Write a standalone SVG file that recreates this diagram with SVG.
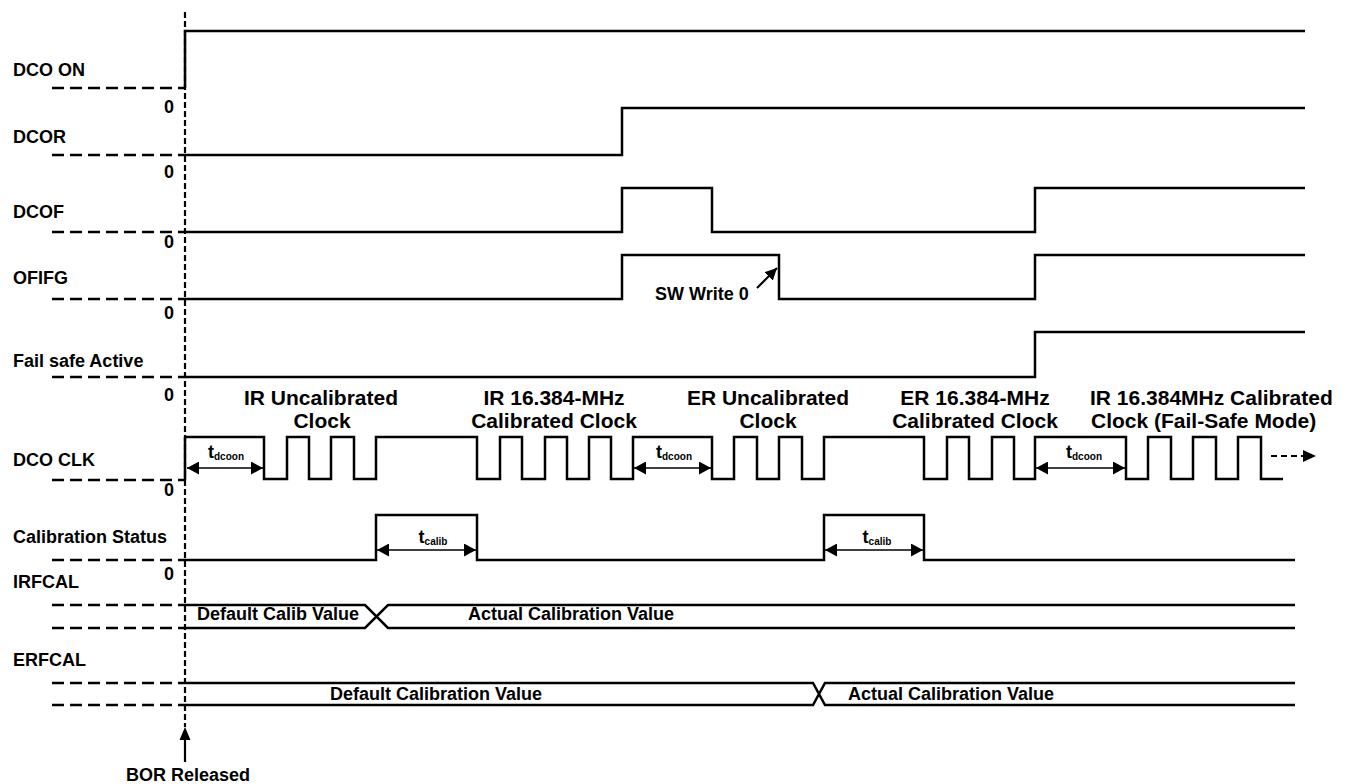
<svg xmlns="http://www.w3.org/2000/svg" width="1348" height="784" viewBox="0 0 1348 784">
<style>
text{font-family:"Liberation Sans",Arial,Helvetica,sans-serif;font-weight:bold;fill:#000}
.lbl{font-size:18px}
.zero{font-size:18px;text-anchor:middle}
.hdr{font-size:21px;text-anchor:middle}
.val{font-size:18px}
.sub{font-size:10px}
.wave{fill:none;stroke:#000;stroke-width:2.5;stroke-linejoin:miter}
.dash{fill:none;stroke:#000;stroke-width:2.5;stroke-dasharray:12 6}
.vdash{fill:none;stroke:#000;stroke-width:2.2;stroke-dasharray:6 3}
.dim{fill:none;stroke:#000;stroke-width:1.6;marker-start:url(#ah);marker-end:url(#ah)}
</style>
<defs>
<marker id="ah" markerUnits="userSpaceOnUse" markerWidth="13" markerHeight="13" refX="12" refY="6.5" orient="auto-start-reverse" viewBox="0 0 13 13">
<path d="M0,0 L12,6.5 L0,13 Z" fill="#000"/>
</marker>
<marker id="ah2" markerUnits="userSpaceOnUse" markerWidth="13" markerHeight="12" refX="12" refY="6" orient="auto" viewBox="0 0 13 12">
<path d="M0,0 L12,6 L0,12 Z" fill="#000"/>
</marker>
</defs>
<rect width="1348" height="784" fill="#fff"/>

<g id="bor-line">
<path class="vdash" d="M185 12 V727"/>
</g>

<g id="dco-on">
<text class="lbl" x="13" y="76">DCO ON</text>
<path class="dash" d="M52 88 H185"/>
<path class="wave" d="M185 88 V31 H1305"/>
<text class="zero" x="169" y="113">0</text>
</g>

<g id="dcor">
<text class="lbl" x="13" y="143">DCOR</text>
<path class="dash" d="M52 155 H185"/>
<path class="wave" d="M185 155 H622 V108 H1305"/>
<text class="zero" x="169" y="178">0</text>
</g>

<g id="dcof">
<text class="lbl" x="13" y="218">DCOF</text>
<path class="dash" d="M52 232 H185"/>
<path class="wave" d="M185 232 H622 V188 H712 V232 H1035 V188 H1305"/>
<text class="zero" x="169" y="248">0</text>
</g>

<g id="ofifg">
<text class="lbl" x="13" y="284">OFIFG</text>
<path class="dash" d="M52 299 H185"/>
<path class="wave" d="M185 299 H622 V255 H779 V299 H1035 V255 H1305"/>
<text class="val" x="655" y="300">SW Write 0</text>
<text class="zero" x="169" y="319">0</text>
</g>

<g id="fail-safe">
<text class="lbl" x="13" y="367">Fail safe Active</text>
<path class="dash" d="M52 377 H185"/>
<path class="wave" d="M185 377 H1035 V332 H1305"/>
<text class="zero" x="169" y="401">0</text>
</g>

<g id="dco-clk">
<text class="lbl" x="13" y="466">DCO CLK</text>
<path class="dash" d="M52 480 H185"/>
<path class="wave" d="M185 480 V437"/>
<path class="wave" d="M185 437 H264 V479 H287 V437 H309 V479 H331 V437 H354 V479 H376 V437 H477 V479 H500 V437 H522 V479 H545 V437 H567 V479 H589 V437 H611 V479 H633 V437 H712 V479 H734 V437 H757 V479 H779 V437 H802 V479 H824 V437 H924 V479 H947 V437 H969 V479 H992 V437 H1014 V479 H1035 V437 H1126 V479 H1148 V437 H1171 V479 H1193 V437 H1216 V479 H1238 V437 H1261 V479 H1283"/>
<text class="hdr" x="321" y="405">IR Uncalibrated</text>
<text class="hdr" x="322" y="428">Clock</text>
<text class="hdr" x="554" y="405">IR 16.384-MHz</text>
<text class="hdr" x="554" y="428">Calibrated Clock</text>
<text class="hdr" x="768" y="405">ER Uncalibrated</text>
<text class="hdr" x="768" y="428">Clock</text>
<text class="hdr" x="975" y="405">ER 16.384-MHz</text>
<text class="hdr" x="975" y="428">Calibrated Clock</text>
<text class="hdr" x="1090" y="405" style="text-anchor:start">IR 16.384MHz Calibrated</text>
<text class="hdr" x="1091" y="428" style="text-anchor:start">Clock (Fail-Safe Mode)</text>
<text class="zero" x="169" y="496">0</text>
</g>

<g id="cal-status">
<text class="lbl" x="13" y="543">Calibration Status</text>
<path class="dash" d="M52 560 H185"/>
<path class="wave" d="M185 560 H376 V515 H477 V560 H824 V515 H924 V560 H1295"/>
<text class="zero" x="169" y="580">0</text>
</g>

<g id="irfcal">
<text class="lbl" x="13" y="588">IRFCAL</text>
<path class="dash" d="M52 605 H185 M52 628 H185"/>
<path class="wave" d="M185 605 H365 L388 628 H1295 M185 628 H365 L388 605 H1295"/>
<text class="val" x="197" y="620">Default Calib Value</text>
<text class="val" x="468" y="620">Actual Calibration Value</text>
</g>

<g id="erfcal">
<text class="lbl" x="13" y="666">ERFCAL</text>
<path class="dash" d="M52 683 H185 M52 705 H185"/>
<path class="wave" d="M185 683 H813 L825 705 H1295 M185 705 H813 L825 683 H1295"/>
<text class="val" x="436" y="700" style="text-anchor:middle">Default Calibration Value</text>
<text class="val" x="848" y="700">Actual Calibration Value</text>
</g>

<g id="timing-labels">
<text x="226" y="458" style="font-size:18px;text-anchor:middle">t<tspan class="sub" dy="2">dcoon</tspan></text>
<text x="674" y="458" style="font-size:18px;text-anchor:middle">t<tspan class="sub" dy="2">dcoon</tspan></text>
<text x="1084" y="458" style="font-size:18px;text-anchor:middle">t<tspan class="sub" dy="2">dcoon</tspan></text>
<text x="433" y="543" style="font-size:18px;text-anchor:middle">t<tspan class="sub" dy="2">calib</tspan></text>
<text x="877" y="543" style="font-size:18px;text-anchor:middle">t<tspan class="sub" dy="2">calib</tspan></text>
</g>

<g id="bor-label">
<text class="val" x="188" y="781" style="text-anchor:middle">BOR Released</text>
</g>

<g id="connectors">
<path class="dim" d="M187 468 H263"/>
<path class="dim" d="M634 468 H711"/>
<path class="dim" d="M1036 468 H1125"/>
<path class="dim" d="M377 550 H476"/>
<path class="dim" d="M825 550 H923"/>
<path d="M757 288 L777 268" fill="none" stroke="#000" stroke-width="2.2" marker-end="url(#ah2)"/>
<path d="M1271 456 H1304" fill="none" stroke="#000" stroke-width="2.2" stroke-dasharray="6 4"/>
<path d="M1303 450 L1316 456 L1303 462 Z" fill="#000"/>
<path d="M185 762 V738" fill="none" stroke="#000" stroke-width="2.2"/>
<path d="M179.5 740 L185 727 L190.5 740 Z" fill="#000"/>
</g>
</svg>
